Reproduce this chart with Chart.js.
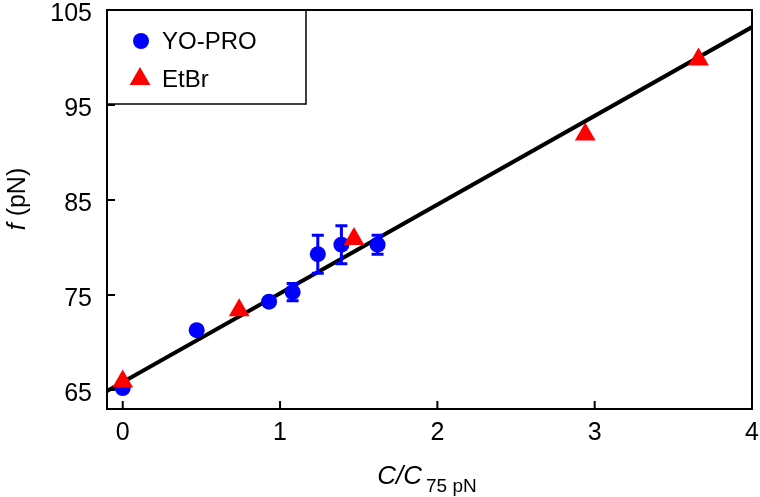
<!DOCTYPE html>
<html>
<head>
<meta charset="utf-8">
<script src="https://cdn.jsdelivr.net/npm/chart.js@4/dist/chart.umd.min.js"></script>
<style>
  html, body { margin: 0; padding: 0; background: #fff; }
  #wrap { width: 760px; height: 497px; }
</style>
</head>
<body>
<div id="wrap"><canvas id="forceChart" width="760" height="497"></canvas></div>
<script>
// ── Data ─────────────────────────────────────────────────────────────────────

const yoproX   = [0, 0.47, 0.93, 1.08, 1.24, 1.39, 1.62];
const yoproF   = [65.2, 71.3, 74.3, 75.3, 79.3, 80.3, 80.3];
const yoproErr = [0, 0, 0, 0.9, 2.0, 2.0, 1.0];

const etbrX = [0, 0.74, 1.47, 2.94, 3.66];
const etbrF = [65.9, 73.4, 80.9, 91.9, 99.8];

// linear fit, drawn across the whole x range
const fitX = [-0.1, 4];
const fitF = [64.9, 103.2];

const xTicks = [0, 1, 2, 3, 4];
const yTicks = [65, 75, 85, 95, 105];

const FONT = '"Liberation Sans", Arial, Helvetica, sans-serif';
const BLUE = '#0000ff';
const RED  = '#ff0000';

const toPoints = (xs, ys) => xs.map((x, i) => ({ x, y: ys[i] }));

// no auto padding from tick labels hanging over the ends
function noPad(s) {
    s.paddingTop = 0; s.paddingBottom = 0;
    s.paddingLeft = 0; s.paddingRight = 0;
}

// ── Error bars for the YO-PRO series ─────────────────────────────────────────

const errorBars = {
    id: 'errorBars',
    afterDatasetDraw(chart, args) {
        if (args.index !== 1) return;
        const { ctx, scales: { x, y } } = chart;
        ctx.save();
        ctx.strokeStyle = BLUE;
        ctx.lineWidth = 3;
        yoproX.forEach((v, i) => {
            const e = yoproErr[i];
            if (!e) return;
            const px = x.getPixelForValue(v);
            const top = y.getPixelForValue(yoproF[i] + e);
            const bot = y.getPixelForValue(yoproF[i] - e);
            ctx.beginPath();
            ctx.moveTo(px, top); ctx.lineTo(px, bot);
            ctx.moveTo(px - 6, top); ctx.lineTo(px + 6, top);
            ctx.moveTo(px - 6, bot); ctx.lineTo(px + 6, bot);
            ctx.stroke();
        });
        ctx.restore();
    }
};

// ── Frame, inward ticks, axis titles and legend box ──────────────────────────

const frame = {
    id: 'frame',
    afterDraw(chart) {
        const { ctx, chartArea: a, scales: { x, y } } = chart;
        ctx.save();

        // box round the plot
        ctx.strokeStyle = '#000';
        ctx.lineWidth = 2;
        ctx.strokeRect(a.left, a.top, a.right - a.left, a.bottom - a.top);

        // inward tick marks
        ctx.beginPath();
        yTicks.forEach(v => {
            const py = y.getPixelForValue(v);
            ctx.moveTo(a.left, py); ctx.lineTo(a.left + 8, py);
        });
        xTicks.forEach(v => {
            const px = x.getPixelForValue(v);
            ctx.moveTo(px, a.bottom); ctx.lineTo(px, a.bottom - 8);
        });
        ctx.stroke();

        ctx.fillStyle = '#000';
        ctx.textBaseline = 'alphabetic';

        // x title: C/C with subscript "75 pN"
        ctx.font = 'italic 26px ' + FONT;
        const mainW = ctx.measureText('C/C').width;
        ctx.font = '19px ' + FONT;
        const subW = ctx.measureText('75 pN').width;
        const startX = 427 - (mainW + 4 + subW) / 2;
        ctx.font = 'italic 26px ' + FONT;
        ctx.textAlign = 'left';
        ctx.fillText('C/C', startX, 484);
        ctx.font = '19px ' + FONT;
        ctx.fillText('75 pN', startX + mainW + 4, 492);

        // y title: f (pN), rotated
        ctx.save();
        ctx.translate(25, 199);
        ctx.rotate(-Math.PI / 2);
        ctx.font = 'italic 25px ' + FONT;
        const fW = ctx.measureText('f').width;
        ctx.font = '25px ' + FONT;
        const restW = ctx.measureText(' (pN)').width;
        const s = -(fW + restW) / 2;
        ctx.font = 'italic 25px ' + FONT;
        ctx.fillText('f', s, 0);
        ctx.font = '25px ' + FONT;
        ctx.fillText(' (pN)', s + fW, 0);
        ctx.restore();

        // legend
        ctx.lineWidth = 1.5;
        ctx.strokeRect(a.left, a.top, 306 - a.left, 104 - a.top);

        ctx.fillStyle = BLUE;
        ctx.beginPath();
        ctx.arc(141, 41, 8, 0, Math.PI * 2);
        ctx.fill();

        const tx = 140, ty = 79, r = 12;
        ctx.fillStyle = RED;
        ctx.beginPath();
        ctx.moveTo(tx, ty - r);
        ctx.lineTo(tx + r * Math.sin(2 * Math.PI / 3), ty + r / 2);
        ctx.lineTo(tx - r * Math.sin(2 * Math.PI / 3), ty + r / 2);
        ctx.closePath();
        ctx.fill();

        ctx.fillStyle = '#000';
        ctx.font = '24px ' + FONT;
        ctx.textBaseline = 'middle';
        ctx.fillText('YO-PRO', 162, 42);
        ctx.fillText('EtBr', 162, 80);

        ctx.restore();
    }
};

// ── Chart ────────────────────────────────────────────────────────────────────

const ctx = document.getElementById('forceChart').getContext('2d');
new Chart(ctx, {
    type: 'scatter',
    data: {
        datasets: [
            {
                label: 'fit',
                type: 'line',
                data: toPoints(fitX, fitF),
                borderColor: '#000',
                borderWidth: 4,
                pointRadius: 0,
                fill: false,
                order: 2,
            },
            {
                label: 'YO-PRO',
                data: toPoints(yoproX, yoproF),
                backgroundColor: BLUE,
                borderColor: BLUE,
                borderWidth: 0,
                pointStyle: 'circle',
                pointRadius: 8,
                order: 1,
            },
            {
                label: 'EtBr',
                data: toPoints(etbrX, etbrF),
                backgroundColor: RED,
                borderColor: RED,
                borderWidth: 0,
                pointStyle: 'triangle',
                pointRadius: 12,
                order: 0,
            }
        ]
    },
    options: {
        responsive: false,
        animation: false,
        devicePixelRatio: 1,
        layout: { autoPadding: false, padding: { top: 10, right: 8, left: 0, bottom: 0 } },
        plugins: {
            legend: { display: false },
            tooltip: { enabled: false },
        },
        scales: {
            x: {
                type: 'linear',
                min: -0.1,
                max: 4,
                afterBuildTicks: s => { s.ticks = xTicks.map(v => ({ value: v })); },
                afterFit: s => { s.height = 88; noPad(s); },
                grid: { display: false, drawTicks: false },
                border: { display: false },
                ticks: { color: '#000', padding: 9, font: { family: FONT, size: 25 } },
            },
            y: {
                type: 'linear',
                min: 63,
                max: 105,
                afterBuildTicks: s => { s.ticks = yTicks.map(v => ({ value: v })); },
                afterFit: s => { s.width = 107; noPad(s); },
                grid: { display: false, drawTicks: false },
                border: { display: false },
                ticks: { color: '#000', padding: 15, labelOffset: 4, font: { family: FONT, size: 25 } },
            }
        }
    },
    plugins: [errorBars, frame]
});
</script>
</body>
</html>
